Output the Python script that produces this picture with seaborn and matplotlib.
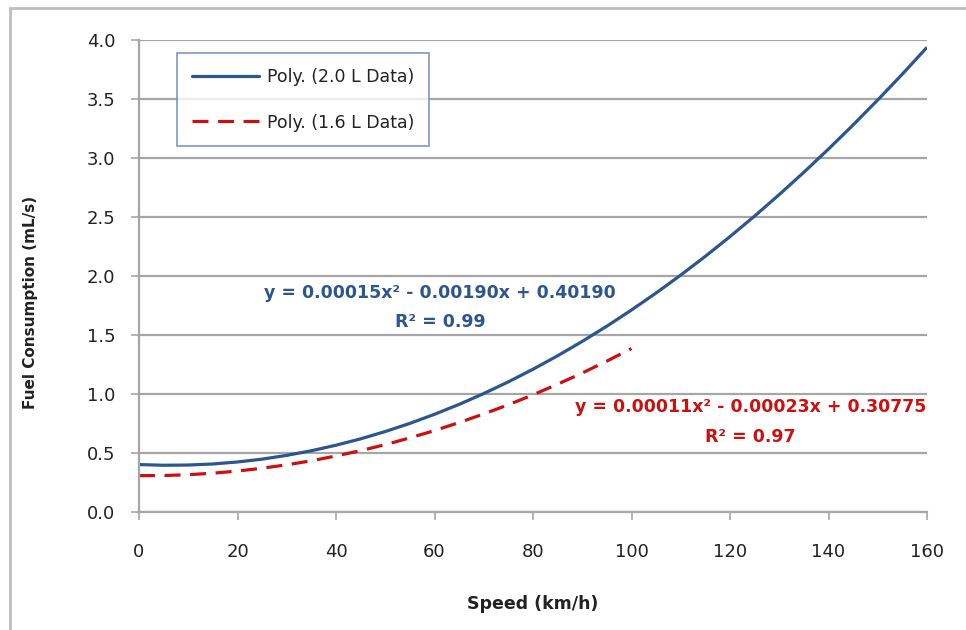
import matplotlib
matplotlib.use("Agg")
import matplotlib.pyplot as plt
import seaborn as sns
import pandas as pd
from matplotlib.patches import Rectangle
from matplotlib.lines import Line2D

# Values
speed_20 = [0, 5, 10, 15, 20, 25, 30, 35, 40, 45, 50, 55, 60, 65, 70, 75, 80,
            85, 90, 95, 100, 105, 110, 115, 120, 125, 130, 135, 140, 145, 150, 155, 160]
fuel_20 = [0.402, 0.396, 0.398, 0.407, 0.424, 0.448, 0.480, 0.519, 0.566, 0.620,
           0.682, 0.751, 0.828, 0.912, 1.004, 1.103, 1.210, 1.324, 1.446, 1.575,
           1.712, 1.856, 2.008, 2.167, 2.334, 2.508, 2.690, 2.879, 3.076, 3.280,
           3.492, 3.711, 3.938]
speed_16 = [0, 5, 10, 15, 20, 25, 30, 35, 40, 45, 50, 55, 60, 65, 70, 75, 80,
            85, 90, 95, 100]
fuel_16 = [0.308, 0.309, 0.316, 0.329, 0.347, 0.371, 0.400, 0.434, 0.475, 0.520,
           0.571, 0.628, 0.690, 0.758, 0.831, 0.909, 0.993, 1.083, 1.178, 1.279,
           1.385]

series_names = ["Poly. (2.0 L Data)", "Poly. (1.6 L Data)"]
x_ticks = [0, 20, 40, 60, 80, 100, 120, 140, 160]
y_ticks = [0.0, 0.5, 1.0, 1.5, 2.0, 2.5, 3.0, 3.5, 4.0]
eq_20 = ["y = 0.00015x² - 0.00190x + 0.40190", "R² = 0.99"]
eq_16 = ["y = 0.00011x² - 0.00023x + 0.30775", "R² = 0.97"]

df = pd.concat([
    pd.DataFrame({"Speed": speed_20, "Fuel": fuel_20, "Series": series_names[0]}),
    pd.DataFrame({"Speed": speed_16, "Fuel": fuel_16, "Series": series_names[1]}),
])

sns.set_style("white")
plt.rcParams["font.family"] = ["DejaVu Sans"]

BLUE = "#2B5690"
RED = "#CC1010"
GRID = "#A6A6A6"
TXT = "#222222"

fig = plt.figure(figsize=(9.66, 6.30), dpi=100)
# outer chart frame
fig.patches.append(Rectangle((10 / 966, -0.05), 1.2, 1 - 8 / 630 + 0.05,
                             transform=fig.transFigure, fill=False,
                             edgecolor="#BDBDBD", linewidth=2.0))
ax = fig.add_axes([139 / 966, 1 - 512 / 630, 788 / 966, 472 / 630])

sns.lineplot(data=df, x="Speed", y="Fuel", hue="Series", style="Series",
             palette=[BLUE, RED], dashes=[(1, 0), (5, 3)], linewidth=2.3,
             ax=ax, legend=False, sort=False)

ax.set_xlim(0, 160)
ax.set_ylim(0, 4.0)
ax.set_xticks(x_ticks)
ax.set_yticks(y_ticks)
ax.set_xticklabels([str(v) for v in x_ticks], fontsize=13, color=TXT)
ax.set_yticklabels([f"{v:.1f}" for v in y_ticks], fontsize=13, color=TXT)
ax.yaxis.grid(True, color=GRID, linewidth=1.6)
ax.set_axisbelow(True)
for s in ["top", "right"]:
    ax.spines[s].set_visible(False)
for s in ["left", "bottom"]:
    ax.spines[s].set_color(GRID)
    ax.spines[s].set_linewidth(1.6)
ax.tick_params(axis="both", which="both", length=6, width=1.2, color=GRID,
               direction="out", left=True, bottom=True)
ax.tick_params(axis="x", pad=16)
ax.tick_params(axis="y", pad=11)

ax.set_xlabel("Speed (km/h)", fontsize=12.5, fontweight="bold", labelpad=25,
              color=TXT)
ax.set_ylabel("Fuel Consumption (mL/s)", fontsize=11, fontweight="bold",
              color=TXT)
ax.yaxis.set_label_coords(-0.128, 0.445)

# legend
handles = [Line2D([], [], color=BLUE, lw=2.3),
           Line2D([], [], color=RED, lw=2.3, dashes=(5, 3))]
leg = ax.legend(handles, series_names, loc="upper left",
                bbox_to_anchor=(38 / 788, 1 - 13 / 472), fontsize=12.5,
                frameon=True, fancybox=False, handlelength=3.9,
                labelspacing=1.6, borderpad=0.85, handletextpad=0.45,
                borderaxespad=0)
leg.get_frame().set_edgecolor("#5B7FB0")
leg.get_frame().set_linewidth(1.2)
for t in leg.get_texts():
    t.set_color(TXT)

# trendline equations
ax.text(61.1, 1.86, eq_20[0], color=BLUE, fontsize=12.5, fontweight="bold",
        ha="center", va="center")
ax.text(61.1, 1.61, eq_20[1], color=BLUE, fontsize=12.5, fontweight="bold",
        ha="center", va="center")
ax.text(124.1, 0.89, eq_16[0], color=RED, fontsize=12.5, fontweight="bold",
        ha="center", va="center")
ax.text(124.1, 0.635, eq_16[1], color=RED, fontsize=12.5, fontweight="bold",
        ha="center", va="center")

fig.savefig("out.png", dpi=100)
